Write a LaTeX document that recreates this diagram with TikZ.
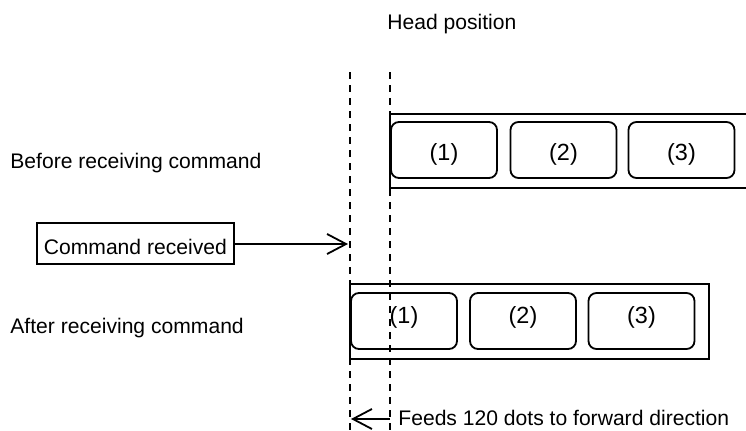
\documentclass[tikz,border=0pt]{standalone}
\usepackage{fontspec}
\setmainfont{Liberation Sans}
\usetikzlibrary{arrows.meta}
\tikzset{
  every node/.style={font=\fontsize{10.55}{12}\selectfont},
  cell/.style={draw, line width=0.9pt, rounded corners=4pt, minimum width=53pt, minimum height=28pt, inner sep=0pt, font=\fontsize{11.7}{13}\selectfont},
  topcell/.style={cell, text height=13pt, text depth=3pt},
  botcell/.style={cell, text height=8pt, text depth=6pt},
  strip/.style={draw, line width=0.9pt},
  guide/.style={line width=0.9pt, dash pattern=on 3.5pt off 3pt},
  barb/.style={line width=0.9pt, -{Straight Barb[length=9.5pt,width=10pt,line width=0.9pt]}},
  lbl/.style={anchor=base west, inner sep=0pt}
}
\begin{document}
\begin{tikzpicture}[x=0.5pt,y=-0.5pt]
\useasboundingbox (0,0) rectangle (746,430);
% title
\node[lbl] (head) at (387,29.5) {Head position};
% labels
\node[lbl] (before) at (10,168) {Before receiving command};
\node[lbl] (after) at (10,333) {After receiving command};
% top strip (open to the right)
\draw[line width=0.9pt] (746,114) -- (390,114) -- (390,188) -- (746,188);
\node[topcell] (t1) at (444,150) {(1)};
\node[topcell] (t2) at (563.5,150) {(2)};
\node[topcell] (t3) at (681.5,150) {(3)};
% bottom strip
\node[strip, minimum width=179.5pt, minimum height=37.5pt, inner sep=0pt] (bstrip) at (529.5,321.5) {};
\node[botcell] (b1) at (404,321) {(1)};
\node[botcell] (b2) at (523,321) {(2)};
\node[botcell] (b3) at (641.5,321) {(3)};
% command box
\node[draw, line width=0.9pt, inner xsep=3.5pt, inner ysep=0pt, text height=15.5pt, text depth=5pt, anchor=west] (cmd) at (36,243.5) {Command received};
% dashed guides
\coordinate (gL1) at (350,72);
\coordinate (gL2) at (350,430);
\coordinate (gR1) at (390,72);
\coordinate (gR2) at (390,430);
\draw[guide] (gL1) -- (gL2);
\draw[guide] (gR1) -- (gR2);
% command arrow
\coordinate (cmdtip) at (348,244);
\draw[barb] (cmd.east |- cmdtip) -- (cmdtip);
% feed arrow
\coordinate (fs) at (390,419);
\coordinate (fe) at (351,419);
\draw[barb] (fs) -- (fe);
\node[lbl] (feeds) at (398,425) {Feeds 120 dots to forward direction};
\end{tikzpicture}
\end{document}
